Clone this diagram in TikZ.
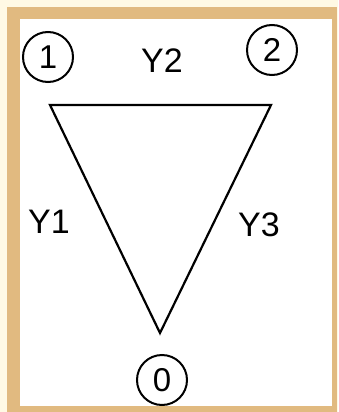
\documentclass[tikz,border=0pt]{standalone}
\usepackage{fontspec}
\setmainfont{Liberation Sans}
\definecolor{bgcream}{RGB}{255,249,228}
\definecolor{framebrown}{RGB}{225,186,128}
\begin{document}
\begin{tikzpicture}[x=1pt,y=-1pt,
  lbl/.style={font=\fontsize{34}{36}\selectfont, inner sep=0pt},
  numcirc/.style={circle, draw=black, line width=2pt, minimum size=50pt, inner sep=0pt, font=\fontsize{33}{35}\selectfont},
  edgeline/.style={line width=2.2pt, line join=miter}]
\fill[bgcream] (0,0) rectangle (338,412);
\useasboundingbox (0,0) rectangle (338,412);
\fill[framebrown] (7,7) rectangle (337,412);
\fill[white] (20,19) rectangle (332,406);
% vertices
\coordinate (a) at (50,105);
\coordinate (b) at (271,105);
\coordinate (c) at (160,333);
\draw[edgeline] (a) -- (b) -- (c) -- cycle;
% circled numbers
\node[numcirc] (n1) at (48,57) {1};
\node[numcirc] (n2) at (272,50) {2};
\node[numcirc] (n0) at (162,380) {0};
% labels
\node[lbl] (y2) at (162,61) {Y2};
\node[lbl] (y1) at (49,222) {Y1};
\node[lbl] (y3) at (259,225) {Y3};
\end{tikzpicture}
\end{document}
